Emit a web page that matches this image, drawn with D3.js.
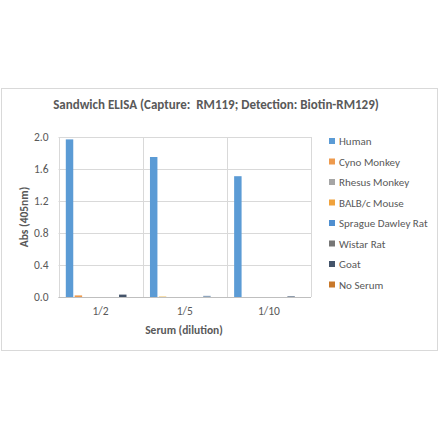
<!DOCTYPE html>
<html><head><meta charset="utf-8">
<script src="https://cdn.jsdelivr.net/npm/d3@7"></script>
<style>body{margin:0;background:#fff}svg{display:block}text{font-family:Carlito,Lato,"Open Sans",sans-serif}</style>
</head><body><svg id="c" width="440" height="441"></svg>
<script>
const categories = ["1/2", "1/5", "1/10"];
const seriesNames = ["Human","Cyno Monkey","Rhesus Monkey","BALB/c Mouse","Sprague Dawley Rat","Wistar Rat","Goat","No Serum"];
const human = [1.97, 1.75, 1.51];
const cyno = [0.02, 0.01, 0];
const rhesus = [0, 0, 0];
const balbc = [0, 0, 0];
const sdRat = [0, 0, 0];
const wistar = [0, 0, 0];
const goat = [0.03, 0.015, 0.012];
const noSerum = [0, 0, 0];
const yTicks = [0, 0.4, 0.8, 1.2, 1.6, 2.0];
const seriesValues = [human, cyno, rhesus, balbc, sdRat, wistar, goat, noSerum];
const colors = ["#5B9BD5","#EE9A4D","#A5A5A5","#F0A23C","#4F8FD0","#767676","#44546A","#C8782A"];
const barColors = [
  ["#5B9BD5","#5B9BD5","#5B9BD5"],
  ["#EE9A4D","#F5D79A","#EE9A4D"],
  ["#A5A5A5","#A5A5A5","#A5A5A5"],
  ["#F0A23C","#F0A23C","#F0A23C"],
  ["#4F8FD0","#4F8FD0","#4F8FD0"],
  ["#767676","#767676","#767676"],
  ["#44546A","#8FA6BE","#8A97A8"],
  ["#C8782A","#C8782A","#C8782A"]
];

const svg = d3.select("#c");
svg.append("rect").attr("x",1.5).attr("y",88.5).attr("width",436).attr("height",262)
  .attr("fill","#fff").attr("stroke","#d9d9d9");

const x0 = d3.scaleBand().domain(categories).range([58.5, 311]).padding(0);
const x1 = d3.scaleBand().domain(seriesNames).range([7.3, x0.bandwidth()-7.3]).paddingInner(0.16);
const y = d3.scaleLinear().domain([0, 2]).range([297, 137]);

svg.append("g").selectAll("line").data(yTicks).join("line")
  .attr("x1",58.5).attr("x2",311).attr("y1",d=>Math.round(y(d))+0.5).attr("y2",d=>Math.round(y(d))+0.5)
  .attr("stroke","#d9d9d9");
const seps = categories.map(c=>x0(c)).concat([x0.range()[1]]);
svg.append("g").selectAll("line").data(seps).join("line")
  .attr("x1",d=>Math.round(d)+0.5).attr("x2",d=>Math.round(d)+0.5).attr("y1",137).attr("y2",297)
  .attr("stroke","#d9d9d9");

const g = svg.append("g");
categories.forEach((c,ci)=>{
  seriesNames.forEach((s,si)=>{
    const v = seriesValues[si][ci];
    if (v <= 0) return;
    g.append("rect").attr("x",x0(c)+x1(s)).attr("width",x1.bandwidth())
      .attr("y",y(v)).attr("height",y(0)-y(v)).attr("fill",barColors[si][ci]);
  });
});
svg.append("line").attr("x1",58.5).attr("x2",311).attr("y1",297.5).attr("y2",297.5).attr("stroke","#bfbfbf");

const yAxis = d3.axisLeft(y).tickValues(yTicks).tickFormat(d3.format(".1f")).tickSize(0).tickPadding(10);
const ya = svg.append("g").attr("transform","translate(58.5,0)").call(yAxis);
ya.select(".domain").remove();
ya.selectAll("text").attr("fill","#595959").style("font-size","11.5px").style("font-family","Carlito,Lato,sans-serif");

const xAxis = d3.axisBottom(x0).tickSize(0).tickPadding(10);
const xa = svg.append("g").attr("transform","translate(0,297)").call(xAxis);
xa.select(".domain").remove();
xa.selectAll("text").attr("fill","#595959").style("font-size","11.5px").style("font-family","Carlito,Lato,sans-serif");

svg.append("text").attr("x",216).attr("y",109).attr("text-anchor","middle")
  .attr("fill","#595959").attr("font-weight","bold").attr("font-size","13px")
  .style("white-space","pre")
  .text("Sandwich ELISA (Capture:  RM119; Detection: Biotin-RM129)");
svg.append("text").attr("x",184).attr("y",334).attr("text-anchor","middle")
  .attr("fill","#595959").attr("font-weight","bold").attr("font-size","11.5px")
  .text("Serum (dilution)");
svg.append("text").attr("transform","translate(28,217) rotate(-90)").attr("text-anchor","middle")
  .attr("fill","#595959").attr("font-weight","bold").attr("font-size","11.5px")
  .text("Abs (405nm)");

const leg = svg.append("g").selectAll("g").data(seriesNames).join("g")
  .attr("transform",(d,i)=>`translate(329,${141 + i*20.5})`);
leg.append("rect").attr("x",0).attr("y",-3).attr("width",6).attr("height",6).attr("fill",(d,i)=>colors[i]);
leg.append("text").attr("x",10).attr("y",4).attr("fill","#595959").attr("font-size","11px").text(d=>d);
</script></body></html>
